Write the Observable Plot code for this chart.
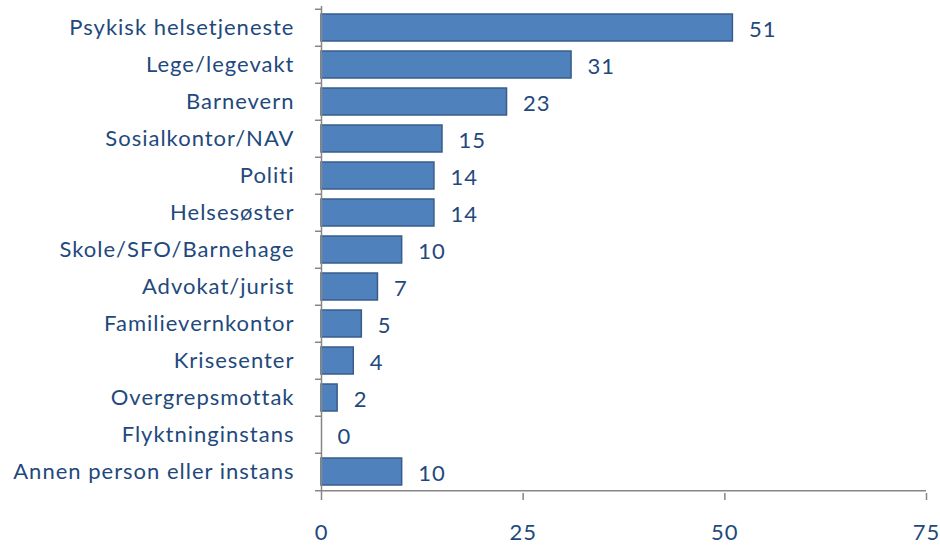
<!DOCTYPE html>
<html><head><meta charset="utf-8">
<script src="https://cdn.jsdelivr.net/npm/d3@7"></script>
<script src="https://cdn.jsdelivr.net/npm/@observablehq/plot@0.6"></script>
<style>
html,body{margin:0;padding:0;background:#fff;}
svg text{letter-spacing:1px;}
</style>
</head><body>
<div id="chart"></div>
<script>
const categories = ["Psykisk helsetjeneste","Lege/legevakt","Barnevern","Sosialkontor/NAV","Politi","Helsesøster","Skole/SFO/Barnehage","Advokat/jurist","Familievernkontor","Krisesenter","Overgrepsmottak","Flyktninginstans","Annen person eller instans"];
const values = [51,31,23,15,14,14,10,7,5,4,2,0,10];
const xTicks = [0,25,50,75];

const data = categories.map((c,i)=>({cat:c, v:values[i]}));
const W = 940, H = 546, mT = 6, mB = 53, mL = 321, mR = 14;
const step = (H - mT - mB) / categories.length;
const textColor = "#1F497D";
const font = "Lato, 'Open Sans', sans-serif";
const fs = 22;

const chart = Plot.plot({
  width: W, height: H,
  marginTop: mT, marginBottom: mB, marginLeft: mL, marginRight: mR,
  style: {fontFamily: font, fontSize: fs + "px", color: textColor, background: "#fff", overflow: "visible"},
  x: {domain: [0,75]},
  y: {domain: categories, padding: 0},
  marks: [
    Plot.barX(data, {y: "cat", x: "v", fill: "#4F81BD", stroke: "#385D8A", strokeWidth: 1.5, insetTop: 5, insetBottom: 5}),
    Plot.text(data, {y: "cat", x: "v", text: d => String(d.v), textAnchor: "start", dx: 16, dy: 2, fill: textColor, fontSize: fs}),
    Plot.ruleY(categories, {y: d => d, x1: -0.75, x2: 0, dy: -step/2, stroke: "#868686", strokeWidth: 1.5}),
    Plot.ruleY(categories.slice(-1), {y: d => d, x1: -0.75, x2: 0, dy: step/2, stroke: "#868686", strokeWidth: 1.5}),
    Plot.ruleX([0], {stroke: "#868686", strokeWidth: 1.5}),
    Plot.axisY({tickSize: 0, tickPadding: 27, fontSize: fs, fill: textColor, label: null}),
    Plot.axisX({ticks: xTicks, tickSize: 7, tickPadding: 24, stroke: "#868686", strokeWidth: 1.5, fontSize: fs, fill: textColor, label: null, tickFormat: d => String(d)}),
    Plot.ruleY([categories[categories.length-1]], {dy: step/2, x1: 0, x2: 75, stroke: "#868686", strokeWidth: 1.5})
  ]
});
document.getElementById("chart").appendChild(chart);
</script>
</body></html>
